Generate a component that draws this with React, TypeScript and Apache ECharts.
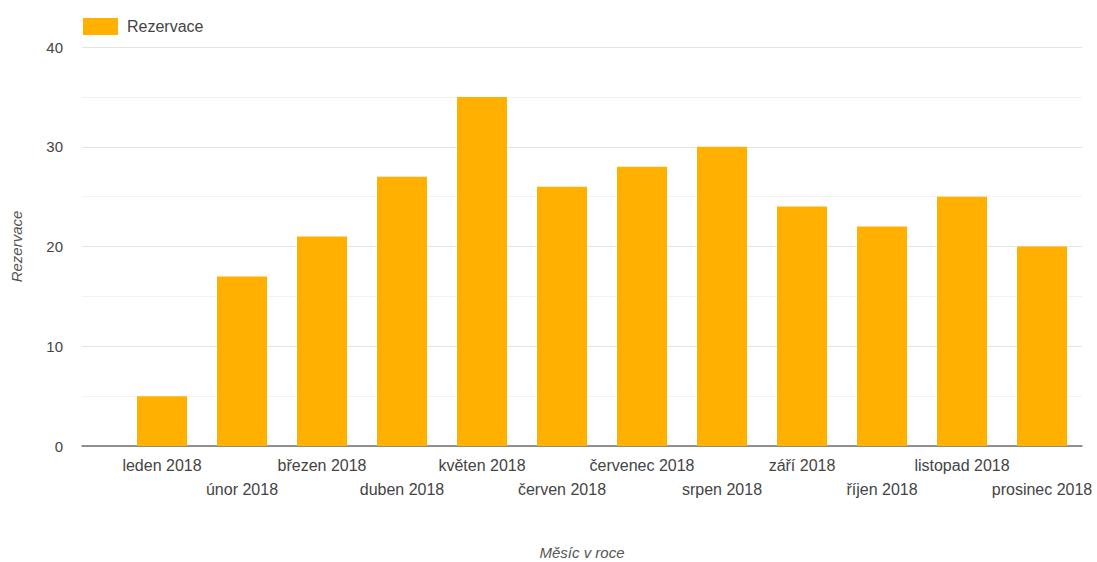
import React, { useEffect, useRef } from "react";
import * as echarts from "echarts";

const categories = [
  "leden 2018", "únor 2018", "březen 2018", "duben 2018", "květen 2018", "červen 2018",
  "červenec 2018", "srpen 2018", "září 2018", "říjen 2018", "listopad 2018", "prosinec 2018",
];
const values = [5, 17, 21, 27, 35, 26, 28, 30, 24, 22, 25, 20];
const seriesName = "Rezervace";
const xTitle = "Měsíc v roce";
const yTitle = "Rezervace";

const FONT = 'Arial, "Liberation Sans", sans-serif';

export default function App() {
  const ref = useRef<HTMLDivElement>(null);
  useEffect(() => {
    document.body.style.margin = "0";
    const chart = echarts.init(ref.current!, null, { renderer: "svg" });
    chart.setOption({
      animation: false,
      backgroundColor: "#ffffff",
      textStyle: { fontFamily: FONT },
      legend: {
        left: 83,
        top: 18,
        padding: 0,
        itemWidth: 35,
        itemHeight: 17,
        icon: "rect",
        textStyle: { fontSize: 16, color: "#444", fontFamily: FONT, padding: [0, 0, 0, 4] },
        data: [seriesName],
      },
      grid: [
        { left: 82, right: 15, top: 47, bottom: 116, containLabel: false, outerBoundsMode: "none" },
        { left: 122, right: 15, top: 47, bottom: 116, containLabel: false, outerBoundsMode: "none" },
      ],
      xAxis: [
        {
          gridIndex: 0,
          type: "value",
          min: 0,
          max: 1,
          axisLine: { show: true, lineStyle: { color: "#6f6f6f", width: 1.5 } },
          axisTick: { show: false },
          axisLabel: { show: false },
          splitLine: { show: false },
          name: xTitle,
          nameLocation: "middle",
          nameGap: 99,
          nameTextStyle: { fontStyle: "italic", fontSize: 15, color: "#555", fontFamily: FONT },
        },
        {
          gridIndex: 1,
          type: "category",
          data: categories,
          axisLine: { show: false },
          axisTick: { show: false },
          axisLabel: {
            interval: 0,
            margin: 7,
            fontSize: 16,
            lineHeight: 24,
            color: "#444",
            fontFamily: FONT,
            formatter: (v: string, i: number) => (i % 2 === 1 ? "\n" + v : v),
          },
        },
      ],
      yAxis: [
        {
          gridIndex: 0,
          type: "value",
          min: 0,
          max: 40,
          interval: 10,
          axisLine: { show: false },
          axisTick: { show: false },
          axisLabel: { fontSize: 15, color: "#444", margin: 19, fontFamily: FONT },
          splitLine: { lineStyle: { color: "#e4e4e4", width: 1 } },
          minorTick: { show: false, splitNumber: 2 },
          minorSplitLine: { show: true, lineStyle: { color: "#f2f2f2", width: 1 } },
          name: yTitle,
          nameLocation: "middle",
          nameGap: 58,
          nameTextStyle: { fontStyle: "italic", fontSize: 15, color: "#555", fontFamily: FONT },
        },
        {
          gridIndex: 1,
          type: "value",
          min: 0,
          max: 40,
          show: false,
          splitLine: { show: false },
        },
      ],
      series: [
        {
          name: seriesName,
          type: "bar",
          xAxisIndex: 1,
          yAxisIndex: 1,
          data: values,
          barWidth: 50,
          itemStyle: { color: "#ffb000" },
        },
      ],
    });
    return () => chart.dispose();
  }, []);
  return <div ref={ref} style={{ width: 1097, height: 562 }} />;
}
